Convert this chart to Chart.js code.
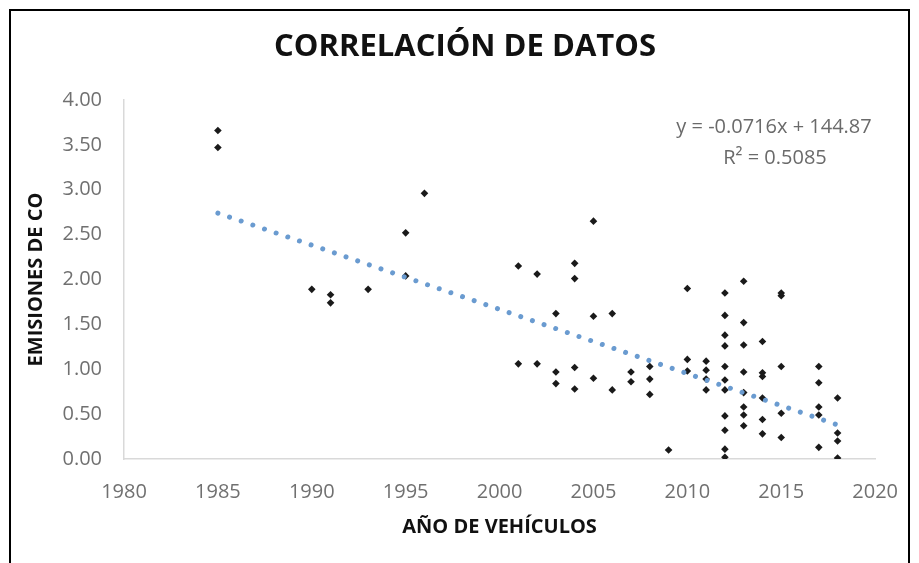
<!DOCTYPE html>
<html>
<head>
<meta charset="utf-8">
<script src="https://cdn.jsdelivr.net/npm/chart.js@4.4.1/dist/chart.umd.min.js"></script>
<style>
  html, body { margin: 0; padding: 0; background: #ffffff; overflow: hidden; }
  #wrap { position: relative; width: 919px; height: 563px; }
  #frame { position: absolute; left: 9px; top: 9px; width: 897px; height: 620px; border: 2px solid #000; box-sizing: content-box; pointer-events: none; }
  canvas { position: absolute; left: 0; top: 0; }
</style>
</head>
<body>
<div id="wrap">
  <canvas id="c" width="919" height="563"></canvas>
  <div id="frame"></div>
</div>
<script>
// ---- data ----
const chartTitle = "CORRELACIÓN DE DATOS";
const xAxisTitle = "AÑO DE VEHÍCULOS";
const yAxisTitle = "EMISIONES DE CO";
const equationLines = ["y = -0.0716x + 144.87", "R² = 0.5085"];

const years = [
  1985, 1985,
  1990,
  1991, 1991,
  1993,
  1995, 1995,
  1996,
  2001, 2001,
  2002, 2002,
  2003, 2003, 2003,
  2004, 2004, 2004, 2004,
  2005, 2005, 2005,
  2006, 2006,
  2007, 2007,
  2008, 2008, 2008,
  2009,
  2010, 2010, 2010,
  2011, 2011, 2011, 2011,
  2012, 2012, 2012, 2012, 2012, 2012, 2012, 2012, 2012, 2012, 2012,
  2013, 2013, 2013, 2013, 2013, 2013, 2013, 2013,
  2014, 2014, 2014, 2014, 2014, 2014,
  2015, 2015, 2015, 2015, 2015,
  2017, 2017, 2017, 2017, 2017,
  2018, 2018, 2018, 2018
];
const emissions = [
  3.66, 3.47,
  1.89,
  1.83, 1.74,
  1.89,
  2.52, 2.04,
  2.96,
  2.15, 1.06,
  2.06, 1.06,
  1.62, 0.97, 0.84,
  2.18, 2.01, 1.02, 0.78,
  2.65, 1.59, 0.90,
  1.62, 0.77,
  0.97, 0.86,
  1.03, 0.89, 0.72,
  0.10,
  1.90, 1.11, 0.98,
  1.09, 0.99, 0.89, 0.77,
  1.85, 1.60, 1.38, 1.26, 1.03, 0.88, 0.77, 0.48, 0.32, 0.11, 0.02,
  1.98, 1.52, 1.27, 0.97, 0.74, 0.58, 0.49, 0.37,
  1.31, 0.96, 0.92, 0.68, 0.44, 0.28,
  1.85, 1.82, 1.03, 0.51, 0.24,
  1.03, 0.85, 0.58, 0.49, 0.13,
  0.68, 0.29, 0.20, 0.01
];
const trendYears = [1985, 2018];
const trendValues = [2.74, 0.38];

const xTicks = [1980, 1985, 1990, 1995, 2000, 2005, 2010, 2015, 2020];
const yTicks = [0, 0.5, 1, 1.5, 2, 2.5, 3, 3.5, 4];

// ---- build chart ----
const scatterData = years.map((yr, i) => ({ x: yr, y: emissions[i] }));
const trendData = trendYears.map((yr, i) => ({ x: yr, y: trendValues[i] }));

const textPlugin = {
  id: 'texts',
  afterDraw(chart) {
    const ctx = chart.ctx;
    ctx.save();
    ctx.textAlign = 'center';
    ctx.textBaseline = 'middle';
    ctx.fillStyle = '#111111';
    ctx.font = 'bold 31px "Open Sans"';
    ctx.fillText(chartTitle, 465, 47);
    ctx.fillStyle = '#6a6a6a';
    ctx.font = '20px "Open Sans"';
    ctx.fillText(equationLines[0], 774, 127);
    ctx.fillText(equationLines[1], 775, 158);
    ctx.restore();
  }
};

new Chart(document.getElementById('c'), {
  type: 'scatter',
  data: {
    datasets: [
      {
        label: 'Emisiones',
        data: scatterData,
        pointStyle: 'rectRot',
        pointRadius: 3.8,
        pointHoverRadius: 3.8,
        backgroundColor: '#1a1a1a',
        borderColor: '#1a1a1a',
        borderWidth: 0,
        order: 2
      },
      {
        label: 'Tendencia',
        type: 'line',
        data: trendData,
        showLine: true,
        pointRadius: 0,
        borderColor: '#6a9bd0',
        borderWidth: 5,
        borderDash: [0.01, 12.3],
        borderCapStyle: 'round',
        fill: false,
        order: 1
      }
    ]
  },
  options: {
    responsive: false,
    animation: false,
    devicePixelRatio: 1,
    events: [],
    layout: { padding: { left: 10, top: 100, right: 33, bottom: 0 } },
    plugins: {
      legend: { display: false },
      tooltip: { enabled: false },
      title: { display: false }
    },
    scales: {
      x: {
        type: 'linear',
        min: 1980,
        max: 2020,
        afterBuildTicks: (s) => { s.ticks = xTicks.map(v => ({ value: v })); },
        afterFit: (s) => { s.height = 104; },
        grid: { display: false, drawTicks: false },
        border: { display: true, color: '#d9d9d9', width: 1.5 },
        ticks: {
          padding: 21,
          color: '#707070',
          font: { family: 'Open Sans', size: 20 },
          callback: (v) => String(v)
        },
        title: {
          display: true,
          text: xAxisTitle,
          color: '#111111',
          font: { family: 'Open Sans', size: 20, weight: 'bold' },
          padding: { top: 0, bottom: 24 }
        }
      },
      y: {
        type: 'linear',
        min: 0,
        max: 4,
        afterBuildTicks: (s) => { s.ticks = yTicks.map(v => ({ value: v })); },
        afterFit: (s) => { s.width = 114; },
        grid: { display: false, drawTicks: false },
        border: { display: true, color: '#d9d9d9', width: 1.5 },
        ticks: {
          padding: 22,
          color: '#707070',
          font: { family: 'Open Sans', size: 20 },
          callback: (v) => Number(v).toFixed(2)
        },
        title: {
          display: true,
          text: yAxisTitle,
          color: '#111111',
          font: { family: 'Open Sans', size: 20, weight: 'bold' },
          padding: { top: 14, bottom: 0 }
        }
      }
    }
  },
  plugins: [textPlugin]
});
</script>
</body>
</html>
